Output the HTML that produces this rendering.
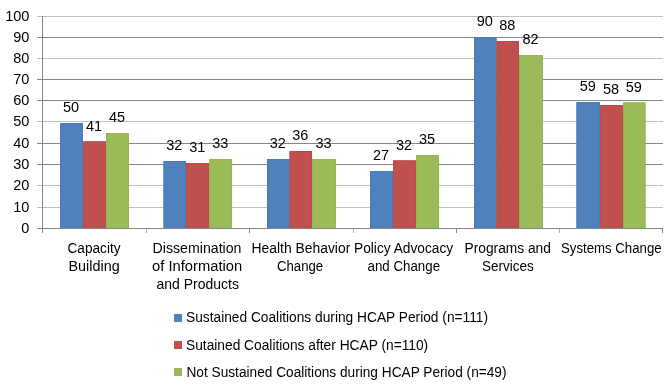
<!DOCTYPE html>
<html><head><meta charset="utf-8"><style>
html,body{margin:0;padding:0;background:#fff;width:672px;height:387px;overflow:hidden}
svg{display:block;will-change:transform}
text{font-family:"Liberation Sans", sans-serif;font-size:14px;fill:#000}
text.n{font-size:14.5px}

</style></head><body>
<svg width="672" height="387" viewBox="0 0 672 387">
<rect x="37" y="207" width="626" height="1" fill="#c0c0c0"/>
<rect x="37" y="185" width="626" height="1" fill="#c0c0c0"/>
<rect x="37" y="164" width="626" height="1" fill="#868686"/>
<rect x="37" y="143" width="626" height="1" fill="#868686"/>
<rect x="37" y="121" width="626" height="1" fill="#c0c0c0"/>
<rect x="37" y="100" width="626" height="1" fill="#868686"/>
<rect x="37" y="79" width="626" height="1" fill="#868686"/>
<rect x="37" y="58" width="626" height="1" fill="#c0c0c0"/>
<rect x="37" y="37" width="626" height="1" fill="#868686"/>
<rect x="37" y="16" width="626" height="1" fill="#c0c0c0"/>
<rect x="60" y="123.00" width="23.00" height="105.50" fill="#4F81BD"/>
<path d="M60.5 228V123.50H82.5V228" fill="none" stroke="#4a7bb8" stroke-width="1"/>
<rect x="83" y="141.40" width="23.00" height="87.10" fill="#C0504D"/>
<path d="M83.5 228V141.90H105.5V228" fill="none" stroke="#b94b48" stroke-width="1"/>
<rect x="106" y="133.00" width="23.00" height="95.50" fill="#9BBB59"/>
<path d="M106.5 228V133.50H128.5V228" fill="none" stroke="#95b553" stroke-width="1"/>
<rect x="163.5" y="161.00" width="22.50" height="67.50" fill="#4F81BD"/>
<path d="M164.0 228V161.50H185.5V228" fill="none" stroke="#4a7bb8" stroke-width="1"/>
<rect x="186" y="163.00" width="23.40" height="65.50" fill="#C0504D"/>
<path d="M186.5 228V163.50H208.9V228" fill="none" stroke="#b94b48" stroke-width="1"/>
<rect x="209.4" y="159.00" width="22.60" height="69.50" fill="#9BBB59"/>
<path d="M209.9 228V159.50H231.5V228" fill="none" stroke="#95b553" stroke-width="1"/>
<rect x="267" y="159.00" width="22.50" height="69.50" fill="#4F81BD"/>
<path d="M267.5 228V159.50H289.0V228" fill="none" stroke="#4a7bb8" stroke-width="1"/>
<rect x="289.5" y="151.00" width="22.50" height="77.50" fill="#C0504D"/>
<path d="M290.0 228V151.50H311.5V228" fill="none" stroke="#b94b48" stroke-width="1"/>
<rect x="312" y="159.00" width="24.00" height="69.50" fill="#9BBB59"/>
<path d="M312.5 228V159.50H335.5V228" fill="none" stroke="#95b553" stroke-width="1"/>
<rect x="370" y="171.00" width="23.00" height="57.50" fill="#4F81BD"/>
<path d="M370.5 228V171.50H392.5V228" fill="none" stroke="#4a7bb8" stroke-width="1"/>
<rect x="393" y="160.40" width="23.00" height="68.10" fill="#C0504D"/>
<path d="M393.5 228V160.90H415.5V228" fill="none" stroke="#b94b48" stroke-width="1"/>
<rect x="416" y="155.00" width="23.00" height="73.50" fill="#9BBB59"/>
<path d="M416.5 228V155.50H438.5V228" fill="none" stroke="#95b553" stroke-width="1"/>
<rect x="474" y="37.10" width="22.50" height="191.40" fill="#4F81BD"/>
<path d="M474.5 228V37.60H496.0V228" fill="none" stroke="#4a7bb8" stroke-width="1"/>
<rect x="496.5" y="41.00" width="22.50" height="187.50" fill="#C0504D"/>
<path d="M497.0 228V41.50H518.5V228" fill="none" stroke="#b94b48" stroke-width="1"/>
<rect x="519" y="55.00" width="24.00" height="173.50" fill="#9BBB59"/>
<path d="M519.5 228V55.50H542.5V228" fill="none" stroke="#95b553" stroke-width="1"/>
<rect x="576.5" y="102.00" width="23.50" height="126.50" fill="#4F81BD"/>
<path d="M577.0 228V102.50H599.5V228" fill="none" stroke="#4a7bb8" stroke-width="1"/>
<rect x="600" y="105.00" width="23.00" height="123.50" fill="#C0504D"/>
<path d="M600.5 228V105.50H622.5V228" fill="none" stroke="#b94b48" stroke-width="1"/>
<rect x="623" y="102.40" width="22.50" height="126.10" fill="#9BBB59"/>
<path d="M623.5 228V102.90H645.0V228" fill="none" stroke="#95b553" stroke-width="1"/>
<rect x="42" y="16" width="1" height="213" fill="#868686"/>
<rect x="37" y="228" width="626" height="1" fill="#868686"/>
<rect x="42" y="229" width="1" height="4" fill="#868686"/>
<rect x="146" y="229" width="1" height="4" fill="#b0b0b0"/>
<rect x="249" y="229" width="1" height="4" fill="#868686"/>
<rect x="353" y="229" width="1" height="4" fill="#b0b0b0"/>
<rect x="456" y="229" width="1" height="4" fill="#868686"/>
<rect x="559" y="229" width="1" height="4" fill="#b0b0b0"/>
<rect x="662" y="229" width="1" height="4" fill="#868686"/>
<text class="n" x="29.4" y="232.7" text-anchor="end">0</text>
<text class="n" x="29.4" y="211.7" text-anchor="end">10</text>
<text class="n" x="29.4" y="189.7" text-anchor="end">20</text>
<text class="n" x="29.4" y="168.7" text-anchor="end">30</text>
<text class="n" x="29.4" y="147.7" text-anchor="end">40</text>
<text class="n" x="29.4" y="125.7" text-anchor="end">50</text>
<text class="n" x="29.4" y="104.7" text-anchor="end">60</text>
<text class="n" x="29.4" y="83.7" text-anchor="end">70</text>
<text class="n" x="29.4" y="62.7" text-anchor="end">80</text>
<text class="n" x="29.4" y="41.7" text-anchor="end">90</text>
<text class="n" x="29.4" y="20.7" text-anchor="end">100</text>
<text class="n" x="71.10" y="112.20" text-anchor="middle">50</text>
<text class="n" x="94.10" y="130.60" text-anchor="middle">41</text>
<text class="n" x="117.10" y="122.20" text-anchor="middle">45</text>
<text class="n" x="174.35" y="150.20" text-anchor="middle">32</text>
<text class="n" x="197.30" y="152.20" text-anchor="middle">31</text>
<text class="n" x="220.30" y="148.20" text-anchor="middle">33</text>
<text class="n" x="277.85" y="148.20" text-anchor="middle">32</text>
<text class="n" x="300.35" y="140.20" text-anchor="middle">36</text>
<text class="n" x="323.60" y="148.20" text-anchor="middle">33</text>
<text class="n" x="381.10" y="160.20" text-anchor="middle">27</text>
<text class="n" x="404.10" y="149.60" text-anchor="middle">32</text>
<text class="n" x="427.10" y="144.20" text-anchor="middle">35</text>
<text class="n" x="484.85" y="26.30" text-anchor="middle">90</text>
<text class="n" x="507.35" y="30.20" text-anchor="middle">88</text>
<text class="n" x="530.60" y="44.20" text-anchor="middle">82</text>
<text class="n" x="587.85" y="91.20" text-anchor="middle">59</text>
<text class="n" x="611.10" y="94.20" text-anchor="middle">58</text>
<text class="n" x="633.85" y="91.60" text-anchor="middle">59</text>
<text x="67.50" y="253" textLength="53.00" lengthAdjust="spacingAndGlyphs">Capacity</text>
<text x="68.50" y="271" textLength="51.20" lengthAdjust="spacingAndGlyphs">Building</text>
<text x="152.50" y="253" textLength="89.00" lengthAdjust="spacingAndGlyphs">Dissemination</text>
<text x="152.00" y="271" textLength="90.20" lengthAdjust="spacingAndGlyphs">of Information</text>
<text x="156.50" y="289" textLength="82.40" lengthAdjust="spacingAndGlyphs">and Products</text>
<text x="251.50" y="253" textLength="98.80" lengthAdjust="spacingAndGlyphs">Health Behavior</text>
<text x="277.00" y="271" textLength="46.20" lengthAdjust="spacingAndGlyphs">Change</text>
<text x="354.00" y="253" textLength="99.20" lengthAdjust="spacingAndGlyphs">Policy Advocacy</text>
<text x="367.50" y="271" textLength="72.60" lengthAdjust="spacingAndGlyphs">and Change</text>
<text x="464.50" y="253" textLength="86.40" lengthAdjust="spacingAndGlyphs">Programs and</text>
<text x="482.00" y="271" textLength="51.80" lengthAdjust="spacingAndGlyphs">Services</text>
<text x="561.00" y="253" textLength="100.60" lengthAdjust="spacingAndGlyphs">Systems Change</text>
<text x="186.00" y="321.6" textLength="302.00" lengthAdjust="spacingAndGlyphs">Sustained Coalitions during HCAP Period (n=111)</text>
<text x="186.00" y="350" textLength="242.20" lengthAdjust="spacingAndGlyphs">Sutained Coalitions after HCAP (n=110)</text>
<text x="186.50" y="377.3" textLength="320.00" lengthAdjust="spacingAndGlyphs">Not Sustained Coalitions during HCAP Period (n=49)</text>
<rect x="174" y="314" width="8" height="8" fill="#4F81BD"/>
<rect x="174" y="341" width="8" height="8" fill="#C0504D"/>
<rect x="174" y="368" width="8" height="8" fill="#9BBB59"/>
</svg>
</body></html>
